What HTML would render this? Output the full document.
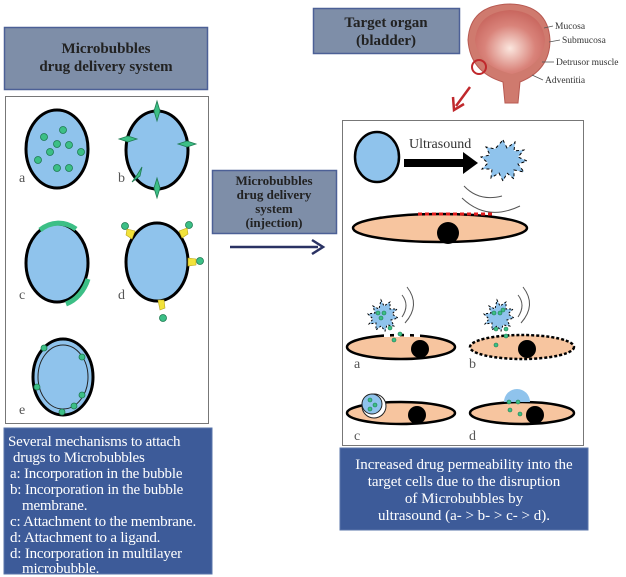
<!DOCTYPE html>
<html><head><meta charset="utf-8"><style>
html,body{margin:0;padding:0;background:#fff}
svg{display:block}
svg text{font-family:"Liberation Serif",serif}
</style></head><body>
<svg width="626" height="577" viewBox="0 0 626 577" xmlns="http://www.w3.org/2000/svg" font-family="Liberation Serif, serif">
<rect x="4.5" y="27.5" width="203" height="62" fill="#7e8ea8" stroke="#4c6096" stroke-width="1.5"/>
<text x="106" y="53" font-size="15" font-weight="bold" text-anchor="middle" fill="#222">Microbubbles</text>
<text x="106" y="71" font-size="15" font-weight="bold" text-anchor="middle" fill="#222">drug delivery system</text>
<rect x="5.5" y="96.5" width="203" height="327" fill="#fff" stroke="#777" stroke-width="1"/>
<g stroke="#000" stroke-width="3" fill="#8fc3ec">
<ellipse cx="57" cy="149" rx="31" ry="39"/>
<ellipse cx="157" cy="150" rx="31" ry="39"/>
<ellipse cx="57" cy="263" rx="31" ry="39"/>
<ellipse cx="157" cy="262" rx="31" ry="39"/>
<ellipse cx="63" cy="377" rx="30" ry="38"/>
</g>
<ellipse cx="63" cy="377" rx="25" ry="32" fill="none" stroke="#222" stroke-width="1"/>
<g fill="none" stroke="#3cbf86" stroke-width="5">
<path d="M40 230 A34 42 0 0 1 76 229"/>
<path d="M88 279 A34 42 0 0 1 66 304"/>
</g>
<g fill="#3cbf86" stroke="#1d7a50" stroke-width="0.8">
<circle cx="44" cy="137" r="3.5"/><circle cx="63" cy="130" r="3.5"/><circle cx="57" cy="144" r="3.5"/><circle cx="69" cy="145" r="3.5"/><circle cx="50" cy="152" r="3.5"/><circle cx="38" cy="160" r="3.5"/><circle cx="57" cy="168" r="3.5"/><circle cx="69" cy="168" r="3.5"/><circle cx="81" cy="152" r="3.5"/>
<path d="M157 101 l3 10 l-3 10 l-3 -10z"/><path d="M157 178 l3 10 l-3 10 l-3 -10z"/>
<path d="M119 139 l9 -3 l9 3 l-9 3z"/><path d="M178 144 l9 -3 l9 3 l-9 3z"/>
<path d="M132 182 l5 -7 l5 -8 l-2 9z"/>
<circle cx="125" cy="226" r="3.5"/><circle cx="189" cy="225" r="3.5"/><circle cx="200" cy="261" r="3.5"/><circle cx="163" cy="318" r="3.5"/>
<circle cx="44" cy="348" r="3"/><circle cx="82" cy="357" r="3"/><circle cx="37" cy="387" r="3"/><circle cx="82" cy="395" r="3"/><circle cx="62" cy="412" r="3"/><circle cx="74" cy="406" r="3"/>
</g>
<g fill="#f2e23a" stroke="#b9a41c" stroke-width="0.6">
<path d="M127 229 l8 2 l-3 8 l-6 -4z"/><path d="M187 228 l-8 3 l3 7 l6 -4z"/><path d="M188 258 l8 1 l0 6 l-8 1z"/><path d="M158 300 l6 0 l1 8 l-5 2z"/>
</g>
<g font-size="14" fill="#555">
<text x="19" y="182">a</text><text x="118" y="182">b</text><text x="19" y="299">c</text><text x="118" y="299">d</text><text x="19" y="414">e</text>
</g>
<rect x="4" y="428" width="208" height="146" fill="#3d5b99" stroke="#5a76aa"/>
<g font-size="15" fill="#fff" letter-spacing="-0.2">
<text x="8" y="446">Several mechanisms to attach</text>
<text x="13" y="462">drugs to Microbubbles</text>
<text x="10" y="478">a: Incorporation in the bubble</text>
<text x="10" y="494">b: Incorporation in the bubble</text>
<text x="22" y="510">membrane.</text>
<text x="10" y="526">c: Attachment to the membrane.</text>
<text x="10" y="542">d: Attachment to a ligand.</text>
<text x="10" y="558">d: Incorporation in multilayer</text>
<text x="22" y="573">microbubble.</text>
</g>
<rect x="212.5" y="170.5" width="124" height="63" fill="#7e8ea8" stroke="#4c6096" stroke-width="1.5"/>
<g font-size="13" font-weight="bold" text-anchor="middle" fill="#222">
<text x="274" y="185">Microbubbles</text>
<text x="274" y="199">drug delivery</text>
<text x="274" y="213">system</text>
<text x="274" y="227">(injection)</text>
</g>
<line x1="230" y1="247" x2="318" y2="247" stroke="#2a3263" stroke-width="2.5"/>
<path d="M312 240 L323 247 L312 254" fill="none" stroke="#2a3263" stroke-width="2.5"/>
<rect x="313.5" y="8.5" width="146" height="45" fill="#7e8ea8" stroke="#4c6096" stroke-width="1.5"/>
<text x="386" y="27" font-size="15" font-weight="bold" text-anchor="middle" fill="#222">Target organ</text>
<text x="386" y="45" font-size="15" font-weight="bold" text-anchor="middle" fill="#222">(bladder)</text>
<defs><radialGradient id="bg" cx="0.5" cy="0.6" r="0.6"><stop offset="0" stop-color="#fbe6de"/><stop offset="0.6" stop-color="#d9837a"/><stop offset="1" stop-color="#c8665e"/></radialGradient></defs>
<path d="M468 40 Q470 5 510 4 Q548 5 550 40 Q550 70 520 82 L518 103 L505 103 L503 82 Q470 72 468 40z" fill="#cf7a6e" stroke="#b85a52"/>
<path d="M475 40 Q478 12 510 10 Q542 12 545 40 Q543 66 512 74 Q478 66 475 40z" fill="url(#bg)"/>
<circle cx="479" cy="67" r="7" fill="none" stroke="#c0282c" stroke-width="2"/>
<g font-size="9.5" fill="#333">
<text x="555" y="29">Mucosa</text><text x="562" y="43">Submucosa</text><text x="556" y="65">Detrusor muscle</text><text x="545" y="83">Adventitia</text>
</g>
<g stroke="#555" stroke-width="0.8"><line x1="544" y1="28" x2="553" y2="26"/><line x1="549" y1="42" x2="560" y2="40"/><line x1="542" y1="62" x2="554" y2="62"/><line x1="532" y1="75" x2="543" y2="80"/></g>
<line x1="470" y1="87" x2="456" y2="106" stroke="#c0282c" stroke-width="2.5"/>
<path d="M453 97 L454 110 L464 104" fill="none" stroke="#c0282c" stroke-width="2.5"/>
<rect x="342.5" y="120.5" width="241" height="325" fill="#fff" stroke="#777"/>
<ellipse cx="377" cy="157" rx="22" ry="25" fill="#8fc3ec" stroke="#000" stroke-width="2.5"/>
<text x="409" y="148" font-size="14" fill="#333">Ultrasound</text>
<rect x="404" y="159" width="62" height="8" fill="#000"/>
<path d="M463 152 L478 163 L463 174z" fill="#000"/>
<path d="M503 140 l4 8 l8 -6 l-1 9 l10 -1 l-6 7 l9 4 l-9 3 l6 8 l-10 -2 l0 9 l-7 -6 l-4 8 l-4 -8 l-8 5 l1 -9 l-10 0 l6 -6 l-7 -6 l9 -2 l-4 -8 l9 2z" fill="#8fc3ec" stroke="#000" stroke-width="1" stroke-dasharray="3 3"/>
<g fill="none" stroke="#555" stroke-width="1"><path d="M464 186 q15 16 38 10"/><path d="M462 198 q25 24 58 8"/></g>
<ellipse cx="440" cy="228" rx="87" ry="14" fill="#f7c59f" stroke="#000" stroke-width="2.5"/>
<line x1="418" y1="214" x2="493" y2="214" stroke="#e01c1c" stroke-width="3" stroke-dasharray="4 3"/>
<circle cx="448" cy="233" r="11" fill="#000"/>
<ellipse cx="401" cy="347" rx="54" ry="12" fill="#f7c59f" stroke="#000" stroke-width="2.5"/>
<line x1="384" y1="335" x2="420" y2="335" stroke="#fff" stroke-width="4" stroke-dasharray="6 4"/>
<circle cx="420" cy="349" r="9" fill="#000"/>
<ellipse cx="522" cy="347" rx="52" ry="12" fill="#f7c59f" stroke="#000" stroke-width="2.5" stroke-dasharray="3 2"/>
<circle cx="527" cy="349" r="9" fill="#000"/>
<g fill="#8fc3ec" stroke="#000" stroke-width="1" stroke-dasharray="2 2">
<path d="M381 300 l3 6 l6 -4 l0 7 l7 0 l-5 5 l6 4 l-7 2 l3 6 l-7 -1 l-2 6 l-4 -5 l-5 4 l0 -7 l-7 1 l4 -5 l-5 -5 l7 -1 l-2 -7 l6 3z"/>
<path d="M497 300 l3 6 l6 -4 l0 7 l7 0 l-5 5 l6 4 l-7 2 l3 6 l-7 -1 l-2 6 l-4 -5 l-5 4 l0 -7 l-7 1 l4 -5 l-5 -5 l7 -1 l-2 -7 l6 3z"/>
</g>
<g fill="none" stroke="#555"><path d="M402 295 q8 10 0 22"/><path d="M407 287 q14 18 -2 36"/><path d="M518 295 q8 10 0 22"/><path d="M523 287 q14 18 -2 36"/></g>
<g fill="#3cbf86" stroke="#1d7a50" stroke-width="0.6">
<circle cx="378" cy="313" r="2"/><circle cx="384" cy="313" r="2"/><circle cx="381" cy="318" r="2"/><circle cx="390" cy="328" r="2"/><circle cx="400" cy="334" r="2"/><circle cx="394" cy="340" r="2"/>
<circle cx="494" cy="313" r="2"/><circle cx="500" cy="313" r="2"/><circle cx="503" cy="310" r="2"/><circle cx="496" cy="329" r="2"/><circle cx="506" cy="329" r="2"/><circle cx="506" cy="336" r="2"/><circle cx="496" cy="345" r="2"/>
</g>
<ellipse cx="401" cy="413" rx="54" ry="11" fill="#f7c59f" stroke="#000" stroke-width="2.5"/>
<circle cx="417" cy="415" r="9" fill="#000"/>
<ellipse cx="374" cy="406" rx="12" ry="12" fill="#fff" stroke="#222"/>
<circle cx="372" cy="404" r="10" fill="#8fc3ec" stroke="#222"/>
<ellipse cx="522" cy="413" rx="52" ry="11" fill="#f7c59f" stroke="#000" stroke-width="2.5"/>
<circle cx="535" cy="415" r="9" fill="#000"/>
<path d="M504 402 a13 13 0 0 1 26 0z" fill="#8fc3ec"/>
<g fill="#3cbf86" stroke="#1d7a50" stroke-width="0.6">
<circle cx="370" cy="400" r="2"/><circle cx="375" cy="405" r="2"/><circle cx="370" cy="409" r="2"/>
<circle cx="509" cy="402" r="2"/><circle cx="518" cy="402" r="2"/><circle cx="510" cy="410" r="2"/><circle cx="520" cy="414" r="2"/>
</g>
<g font-size="14" fill="#555">
<text x="354" y="368">a</text><text x="469" y="368">b</text><text x="354" y="440">c</text><text x="469" y="440">d</text>
</g>
<rect x="340" y="448" width="248" height="82" fill="#3d5b99" stroke="#5a76aa"/>
<g font-size="15" fill="#fff" text-anchor="middle">
<text x="464" y="469">Increased drug permeability into the</text>
<text x="464" y="486">target cells due to the disruption</text>
<text x="464" y="503">of Microbubbles by</text>
<text x="464" y="520">ultrasound (a- &gt; b- &gt; c- &gt; d).</text>
</g>
</svg>
</body></html>
